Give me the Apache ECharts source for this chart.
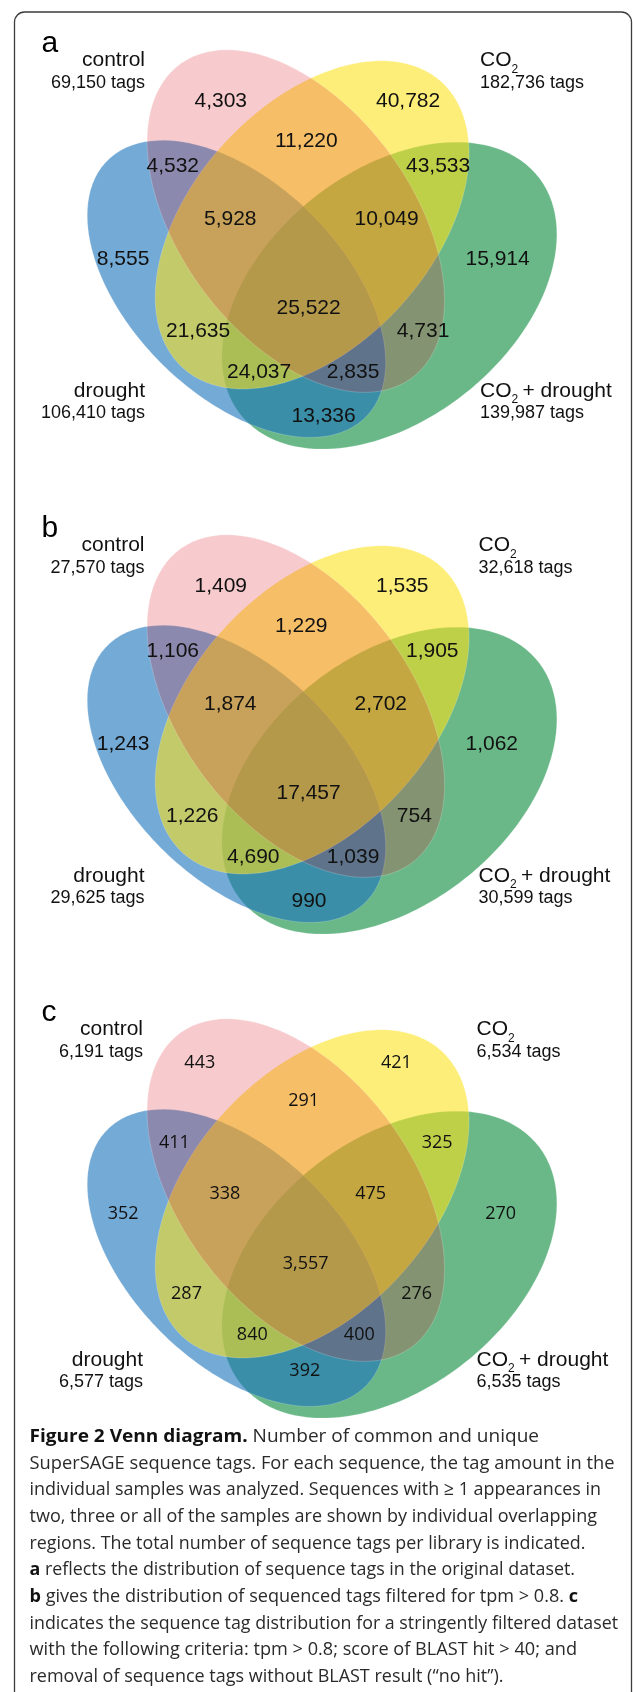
<!DOCTYPE html>
<html><head><meta charset="utf-8">
<script src="https://cdn.jsdelivr.net/npm/echarts@6/dist/echarts.min.js"></script>
<style>html,body{margin:0;padding:0;background:#fff;}#chart{width:633px;height:1692px;}</style>
</head><body><div id="chart"></div>
<script>
// ================= DATA =================
const setNames = ['control', 'CO2', 'drought', 'CO2 + drought'];
const panelLetters = ['a', 'b', 'c'];
// region order: C=control, O=CO2, D=drought, G=CO2+drought
const regionKeys = ['C','O','CO','CD','OG','COD','COG','D','G','CODG','OD','CG','ODG','CDG','DG'];
const countsA = [4303, 40782, 11220, 4532, 43533, 5928, 10049, 8555, 15914, 25522, 21635, 4731, 24037, 2835, 13336];
const countsB = [1409, 1535, 1229, 1106, 1905, 1874, 2702, 1243, 1062, 17457, 1226, 754, 4690, 1039, 990];
const countsC = [443, 421, 291, 411, 325, 338, 475, 352, 270, 3557, 287, 276, 840, 400, 392];
const totalsA = [69150, 182736, 106410, 139987];
const totalsB = [27570, 32618, 29625, 30599];
const totalsC = [6191, 6534, 6577, 6535];
const captionLines = [
  '{b|Figure 2 Venn diagram.} Number of common and unique',
  'SuperSAGE sequence tags. For each sequence, the tag amount in the',
  'individual samples was analyzed. Sequences with \u2265 1 appearances in',
  'two, three or all of the samples are shown by individual overlapping',
  'regions. The total number of sequence tags per library is indicated.',
  '{b|a} reflects the distribution of sequence tags in the original dataset.',
  '{b|b} gives the distribution of sequenced tags filtered for tpm > 0.8. {b|c}',
  'indicates the sequence tag distribution for a stringently filtered dataset',
  'with the following criteria: tpm > 0.8; score of BLAST hit > 40; and',
  'removal of sequence tags without BLAST result (\u201cno hit\u201d).'
];

// ================= LAYOUT (positions / styles) =================
const PANEL_Y = [0, 485, 969];
// boundary points (panel a frame), fitted to ellipses
const ELLIPSE_PTS = [
  // control (pink)
  [[146,140],[157,97],[217,52],[313,77],[390,155],[438,255],[443,300],[440,340],[427,367],[383,388],[356,392],[300,377],[228,316],[167,233]],
  // CO2 (yellow)
  [[385,60],[416,67],[454,100],[469,133],[462,200],[438,255],[380,325],[300,377],[260,390],[227,389],[203,380],[180,360],[154,300],[167,233],[218,152],[313,77]],
  // drought (blue)
  [[84,217],[93,180],[110,160],[157,142],[218,152],[307,208],[380,325],[385,357],[383,388],[367,413],[343,430],[313,440],[273,433],[233,417],[190,387],[150,350],[113,300],[93,250]],
  // CO2 + drought (green)
  [[469,142],[503,143],[529,167],[548,217],[547,267],[533,317],[507,360],[467,397],[427,420],[377,435],[333,440],[267,440],[247,427],[233,407],[227,390],[223,360],[223,340],[227,317],[307,208],[390,155]]
];
const FILL = ['rgba(220,29,42,0.23)', 'rgba(252,226,26,0.58)', 'rgba(27,116,188,0.61)', 'rgb(106,184,136)'];
const DRAW_ORDER = [3, 2, 1, 0];
// label anchors panels a,b (left x of text, middle y)
const AB_X = [194.5, 376, 275, 146.5, 406, 204, 354.5, 96.8, 465.5, 276.5, 166, 396.8, 227, 326.8, 291.5];
const AB_Y = [101, 101, 141, 166, 166, 219, 219, 259.5, 259.5, 308, 331.5, 331.5, 372, 372, 416.5];
// label anchors panel c (center x, middle y)
const C_X = [199.8, 396.4, 303.6, 174.4, 437.2, 224.9, 370.6, 123.1, 500.6, 305.6, 186.5, 416.6, 252.3, 359.3, 304.8];
const C_Y = [94.3, 94.3, 131.7, 174.3, 174.3, 225, 225, 245, 245, 295, 325, 325, 366, 366, 401.7];
const NAME_RIGHT = [145, 144.5, 143];
const NAME_LEFT = [480, 478.5, 476.5];
const NAME_BASE = [67.7, 67.7, 398, 398];
const TOTAL_BASE = [89, 89, 419.5, 419.5];
const CAP_X = 29.5;
const CAP_RIGHT = [539, 614.5, 601, 597, 585.5, 575, 578, 618, 577, 503.5];
const CAP_Y = [1436.7, 1463.3, 1490, 1516.7, 1543.3, 1570, 1596.7, 1623.3, 1650, 1676.7];
const CAP_SIZE = 18.6;
const ARIAL = '"Liberation Sans", Arial, sans-serif';
const MYRIAD = '"Open Sans", "Noto Sans", sans-serif';
const TXT = '#111';

// ================= helpers =================
const mctx = document.createElement('canvas').getContext('2d');
function tw(str, size, fam, weight) { mctx.font = (weight || 'normal') + ' ' + size + 'px ' + fam; return mctx.measureText(str).width; }
function fmt(v) { return String(v).replace(/\B(?=(\d{3})+(?!\d))/g, ','); }
function mid(base, size) { return base - 0.3465 * size; }
function richWidth(line) {
  let w = 0; const re = /\{b\|([^}]*)\}|([^{]+)/g; let m;
  while ((m = re.exec(line))) { if (m[1] !== undefined) w += tw(m[1], CAP_SIZE, MYRIAD, 'bold'); else w += tw(m[2], CAP_SIZE, MYRIAD); }
  return w;
}

function solve(M, v) {
  const n = v.length; const A = M.map((r, i) => r.concat([v[i]]));
  for (let i = 0; i < n; i++) {
    let p = i; for (let r = i + 1; r < n; r++) if (Math.abs(A[r][i]) > Math.abs(A[p][i])) p = r;
    [A[i], A[p]] = [A[p], A[i]];
    for (let r = 0; r < n; r++) { if (r === i) continue; const f = A[r][i] / A[i][i]; for (let c = i; c <= n; c++) A[r][c] -= f * A[i][c]; }
  }
  return A.map((r, i) => r[n] / r[i]);
}
function fitEllipse(pts) {
  let mx = 0, my = 0; pts.forEach(p => { mx += p[0]; my += p[1]; }); mx /= pts.length; my /= pts.length;
  const s = 100; const M = [0,1,2,3,4].map(() => [0,0,0,0,0]); const v = [0,0,0,0,0];
  pts.forEach(([X, Y]) => { const x = (X - mx) / s, y = (Y - my) / s; const r = [x*x, x*y, y*y, x, y];
    for (let i = 0; i < 5; i++) { v[i] += r[i]; for (let j = 0; j < 5; j++) M[i][j] += r[i] * r[j]; } });
  const [A, B, C, D, E] = solve(M, v);
  const det = 4 * A * C - B * B;
  const x0 = (B * E - 2 * C * D) / det, y0 = (B * D - 2 * A * E) / det;
  const F0 = A*x0*x0 + B*x0*y0 + C*y0*y0 + D*x0 + E*y0 - 1;
  const out = [];
  for (let i = 0; i < 180; i++) { const t = i / 180 * 2 * Math.PI, c = Math.cos(t), sn = Math.sin(t);
    const q = A*c*c + B*c*sn + C*sn*sn; const r = Math.sqrt(-F0 / q);
    out.push([mx + s * (x0 + r * c), my + s * (y0 + r * sn)]); }
  return out;
}
const POLYS = ELLIPSE_PTS.map(fitEllipse);

// ================= series data =================
const counts = [countsA, countsB, countsC];
const totals = [totalsA, totalsB, totalsC];
const ellipseData = [], regionData = [], setData = [];
for (let p = 0; p < 3; p++) {
  DRAW_ORDER.forEach(k => ellipseData.push([p, k]));
  counts[p].forEach((v, r) => regionData.push([p, r, v]));
  totals[p].forEach((v, k) => setData.push([p, k, v]));
}

function nameChildren(name, x0, base, align) {
  const size = 21;
  if (align === 'right') return [{ type: 'text', x: x0, y: mid(base, size), style: { text: name, fontSize: size, fontFamily: ARIAL, fill: TXT, align: 'right', verticalAlign: 'middle' } }];
  const out = []; let x = x0;
  if (name.indexOf('CO2') === 0) {
    out.push({ type: 'text', x: x, y: mid(base, size), style: { text: 'CO', fontSize: size, fontFamily: ARIAL, fill: TXT, align: 'left', verticalAlign: 'middle' } });
    x += tw('CO', size, ARIAL);
    out.push({ type: 'text', x: x, y: mid(base + 6, 12), style: { text: '2', fontSize: 12, fontFamily: ARIAL, fill: TXT, align: 'left', verticalAlign: 'middle' } });
    x += tw('2', 12, ARIAL) - 1.5;
    const rest = name.slice(3);
    if (rest) out.push({ type: 'text', x: x, y: mid(base, size), style: { text: rest, fontSize: size, fontFamily: ARIAL, fill: TXT, align: 'left', verticalAlign: 'middle' } });
  } else {
    out.push({ type: 'text', x: x, y: mid(base, size), style: { text: name, fontSize: size, fontFamily: ARIAL, fill: TXT, align: 'left', verticalAlign: 'middle' } });
  }
  return out;
}

const chart = echarts.init(document.getElementById('chart'), null, { renderer: 'canvas' });
chart.setOption({
  animation: false,
  backgroundColor: '#ffffff',
  grid: { left: 0, right: 0, top: 0, bottom: 0 },
  xAxis: { type: 'value', min: 0, max: 633, show: false },
  yAxis: { type: 'value', min: 0, max: 1692, inverse: true, show: false },
  graphic: [
    { type: 'rect', shape: { x: 14.5, y: 12, width: 617, height: 1760, r: 10 }, style: { fill: 'none', stroke: '#3d3d3d', lineWidth: 1.3 }, z: 1 }
  ].concat(captionLines.map((t, i) => ({
    type: 'text', x: CAP_X, y: CAP_Y[i], scaleX: (CAP_RIGHT[i] - CAP_X) / richWidth(t), originX: 0, originY: 0, z: 5,
    style: { text: t, fontSize: CAP_SIZE, fontFamily: MYRIAD, fill: '#2a2a2a', align: 'left', verticalAlign: 'middle',
      rich: { b: { fontSize: CAP_SIZE, fontFamily: MYRIAD, fontWeight: 'bold', fill: '#111' } } }
  }))),
  series: [
    {
      type: 'custom', coordinateSystem: 'cartesian2d', data: ellipseData, silent: true, z: 2,
      renderItem: function (params, api) {
        const p = api.value(0), k = api.value(1);
        const pts = POLYS[k].map(q => api.coord([q[0], q[1] + PANEL_Y[p]]));
        return { type: 'polygon', shape: { points: pts }, style: { fill: FILL[k], stroke: 'rgba(255,255,255,0.28)', lineWidth: 0.7 } };
      }
    },
    {
      type: 'custom', coordinateSystem: 'cartesian2d', data: regionData, silent: true, z: 3,
      renderItem: function (params, api) {
        const p = api.value(0), r = api.value(1), v = api.value(2);
        if (p < 2) {
          const pt = api.coord([AB_X[r], AB_Y[r] + PANEL_Y[p]]);
          return { type: 'text', x: pt[0], y: pt[1], style: { text: fmt(v), fontSize: 21, fontFamily: ARIAL, fill: TXT, align: 'left', verticalAlign: 'middle' } };
        }
        const pt = api.coord([C_X[r], C_Y[r] + PANEL_Y[p]]);
        return { type: 'text', x: pt[0], y: pt[1], style: { text: fmt(v), fontSize: 18, fontFamily: MYRIAD, fill: TXT, align: 'center', verticalAlign: 'middle' } };
      }
    },
    {
      type: 'custom', coordinateSystem: 'cartesian2d', data: setData, silent: true, z: 3,
      renderItem: function (params, api) {
        const p = api.value(0), k = api.value(1), v = api.value(2);
        const right = (k === 0 || k === 2);
        const ax = right ? NAME_RIGHT[p] : NAME_LEFT[p];
        const o = api.coord([ax, PANEL_Y[p]]);
        const children = nameChildren(setNames[k], o[0], o[1] + NAME_BASE[k], right ? 'right' : 'left');
        children.push({ type: 'text', x: o[0], y: mid(o[1] + TOTAL_BASE[k], 18), style: { text: fmt(v) + ' tags', fontSize: 18, fontFamily: ARIAL, fill: TXT, align: right ? 'right' : 'left', verticalAlign: 'middle' } });
        return { type: 'group', children: children };
      }
    },
    {
      type: 'custom', coordinateSystem: 'cartesian2d', data: panelLetters.map((l, p) => [p]), silent: true, z: 3,
      renderItem: function (params, api) {
        const p = api.value(0);
        const o = api.coord([41.5, PANEL_Y[p] + 54]);
        return { type: 'text', x: o[0], y: mid(o[1], 30), style: { text: panelLetters[p], fontSize: 30, fontFamily: ARIAL, fill: '#000', align: 'left', verticalAlign: 'middle' } };
      }
    }
  ]
});
</script>
</body></html>
